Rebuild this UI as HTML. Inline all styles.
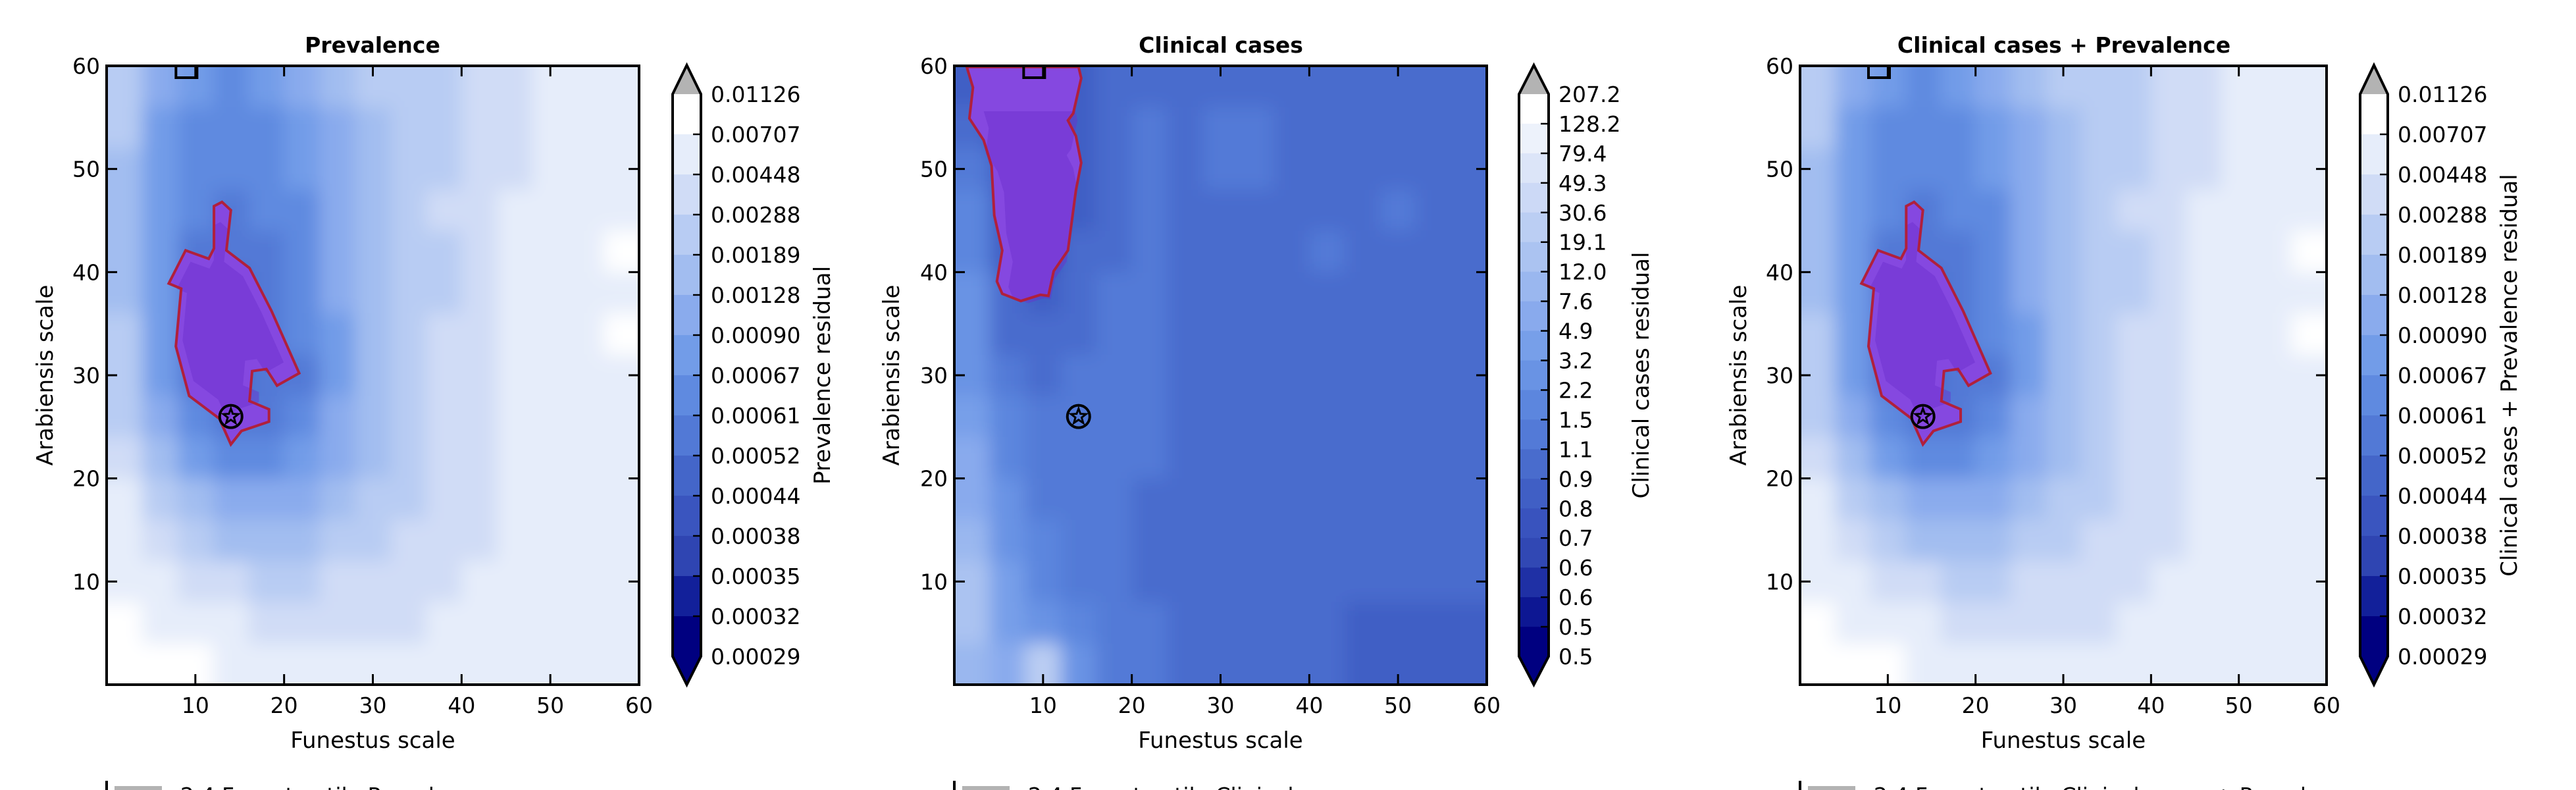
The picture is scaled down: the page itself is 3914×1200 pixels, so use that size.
<!DOCTYPE html>
<html><head><meta charset="utf-8"><style>
html,body{margin:0;padding:0;background:#fff;}
svg{display:block;font-family:"DejaVu Sans","Liberation Sans",sans-serif;}
</style></head><body>
<svg id="fig" width="3914" height="1200" viewBox="0 0 3914 1200" xmlns="http://www.w3.org/2000/svg">
<defs>
<filter id="blur" x="-5%" y="-5%" width="110%" height="110%"><feGaussianBlur stdDeviation="14"/></filter>
</defs>
</svg>
<script>
const xTicks=[10,20,30,40,50,60];
const yTicks=[10,20,30,40,50,60];
const prevLabels=["0.01126","0.00707","0.00448","0.00288","0.00189","0.00128","0.00090","0.00067","0.00061","0.00052","0.00044","0.00038","0.00035","0.00032","0.00029"];
const clinLabels=["207.2","128.2","79.4","49.3","30.6","19.1","12.0","7.6","4.9","3.2","2.2","1.5","1.1","0.9","0.8","0.7","0.6","0.6","0.5","0.5"];
// band index grids: rows from y=60 down to y=0 (4-unit cells), cols x=0..60
const prevGrid=[
[3,5,6,7,6,5,4,3,3,3,2,2,1,1,1],
[3,6,7,7,7,6,5,4,3,3,2,2,1,1,1],
[4,6,7,7,7,6,5,4,3,3,2,2,1,1,1],
[4,6,7,8,7,7,5,4,3,2,2,1,1,1,1],
[4,6,8,8,8,7,5,4,3,3,2,1,1,1,0],
[4,6,8,9,8,7,5,4,3,3,2,1,1,1,1],
[3,6,8,9,8,7,6,4,3,2,2,1,1,1,0],
[3,6,8,9,8,8,6,4,3,2,2,1,1,1,1],
[3,5,7,8,8,7,5,4,3,2,2,1,1,1,1],
[2,4,6,7,7,6,5,4,3,2,2,1,1,1,1],
[1,3,4,5,5,5,4,3,3,2,2,1,1,1,1],
[1,2,3,4,4,4,3,3,2,2,2,1,1,1,1],
[1,1,2,2,3,3,2,2,2,2,1,1,1,1,1],
[0,1,1,1,2,2,2,2,2,1,1,1,1,1,1],
[0,0,0,1,1,1,1,1,1,1,1,1,1,1,1]];
const clinGrid=[
[13,15,15,13,12,12,12,12,12,12,12,12,12,12,12],
[12,14,14,13,12,11,12,11,11,12,12,12,12,12,12],
[11,13,14,13,12,11,12,11,11,12,12,12,12,12,12],
[10,13,14,13,12,11,12,12,12,12,12,12,11,12,12],
[10,13,14,12,12,11,12,12,12,12,11,12,12,12,12],
[9,12,13,12,11,11,12,12,12,12,12,12,12,12,12],
[9,12,12,12,11,11,12,12,12,12,12,12,12,12,12],
[9,11,12,11,11,11,12,12,12,12,12,12,12,12,12],
[8,10,11,11,11,11,12,12,12,12,12,12,12,12,12],
[7,10,11,11,11,11,12,12,12,12,12,12,12,12,12],
[7,9,11,11,11,12,12,12,12,12,12,12,12,12,12],
[6,9,10,11,11,12,12,12,12,12,12,12,12,12,12],
[5,8,10,11,11,12,12,12,12,12,12,12,12,12,12],
[5,8,9,10,11,11,12,12,12,12,12,13,13,13,13],
[6,7,4,9,11,11,12,12,12,12,12,13,13,13,13]];
const prevOutline=[[12.1,46.4],[13.0,46.8],[14.0,46.0],[13.5,42.1],[16.1,40.4],[18.6,36.2],[21.7,30.2],[19.2,29.0],[18.0,30.6],[16.4,30.4],[16.1,27.5],[18.3,26.7],[18.3,25.5],[15.2,24.6],[14.0,23.3],[12.7,25.8],[9.3,28.0],[7.8,32.8],[8.4,38.4],[7.0,38.9],[8.9,42.1],[11.5,41.3],[12.1,42.3]];
const clinOutline=[[1.4,59.9],[14.0,59.9],[14.3,58.8],[13.4,55.4],[12.8,54.7],[13.7,53.2],[14.3,50.6],[13.7,47.9],[12.8,42.1],[11.2,40.1],[10.6,37.7],[9.7,37.8],[7.5,37.2],[5.4,37.9],[4.8,39.1],[5.4,42.1],[4.5,45.5],[4.2,50.3],[3.3,52.8],[1.7,54.9],[2.1,57.9]];
const starPoint=[14,26];
const squarePoint=[9,60];

const palette=["#ffffff","#e6edfa","#d0dcf6","#b8ccf3","#a2bdf0","#8aabed","#729ce8","#5f8ae0","#5279d6","#4466c9","#3a55bf","#2f45b2","#12209a","#000080"];
const NS="http://www.w3.org/2000/svg";
const svg=document.getElementById('fig');
function el(tag,attrs,parent){const e=document.createElementNS(NS,tag);for(const k in attrs)e.setAttribute(k,attrs[k]);(parent||svg).appendChild(e);return e;}
function hex2rgb(h){return [parseInt(h.substr(1,2),16),parseInt(h.substr(3,2),16),parseInt(h.substr(5,2),16)];}
function interpColor(t){const p=t*(palette.length-1);const i=Math.min(Math.floor(p),palette.length-2);const f=p-i;const a=hex2rgb(palette[i]),b=hex2rgb(palette[i+1]);return 'rgb('+a.map((v,k)=>Math.round(v+(b[k]-v)*f)).join(',')+')';}

const T=100,B=1040;
const panels=[
 {key:'prev',L:162,R:971,cbL:1022,cbR:1065,title:"Prevalence",tx:566,ylx:68,cbt:1249,cbLabel:"Prevalence residual",labels:prevLabels,grid:prevGrid,bands:14,outline:prevOutline},
 {key:'clin',L:1450,R:2259,cbL:2308,cbR:2353,title:"Clinical cases",tx:1855,ylx:1354,cbt:2493,cbLabel:"Clinical cases residual",labels:clinLabels,grid:clinGrid,bands:19,outline:clinOutline},
 {key:'comb',L:2735,R:3535,cbL:3586,cbR:3628,title:"Clinical cases + Prevalence",tx:3136,ylx:2641,cbt:3812,cbLabel:"Clinical cases + Prevalence residual",labels:prevLabels,grid:prevGrid,bands:14,outline:prevOutline}
];

panels.forEach((p,pi)=>{
  const xs=v=>p.L+(v/60)*(p.R-p.L);
  const ys=v=>B-(v/60)*(B-T);
  const colorOf=b=>p.bands===14?palette[b]:interpColor(b/(p.bands-1));
  const g=el('g',{});
  
  
  const cp=el('clipPath',{id:'clip'+pi},svg.querySelector('defs'));
  el('rect',{x:p.L,y:T,width:p.R-p.L,height:B-T},cp);
  const clipG=el('g',{'clip-path':'url(#clip'+pi+')'},g);
  const heat=el('g',{filter:'url(#blur)'},clipG);
  
  
  const rows=p.grid.length;
  p.grid.forEach((row,ri)=>{
    const cols=row.length;
    row.forEach((b,ci)=>{
      let x0=xs(ci*60/cols),x1=xs((ci+1)*60/cols),y0=ys(60-ri*60/rows),y1=ys(60-(ri+1)*60/rows);
      if(ci===0)x0-=60; if(ci===cols-1)x1+=60; if(ri===0)y0-=60; if(ri===rows-1)y1+=60;
      const c=el('rect',{x:x0,y:y0,width:x1-x0+0.5,height:y1-y0+0.5,fill:colorOf(b)},heat);
      
      
    });
  });
  const d='M'+p.outline.map(q=>xs(q[0]).toFixed(1)+','+ys(q[1]).toFixed(1)).join(' L')+' Z';
  const pr=el('path',{d:d,fill:'#8548e0',stroke:'none'},clipG);
  
  
  const inner=el('path',{d:d,fill:'#6a2fcc',opacity:0.45},clipG);
  
  
  inner.setAttribute('transform','translate('+(xs(12)*0.18)+','+(ys(36)*0.18)+') scale(0.82)');
  const ol=el('path',{d:d,fill:'none',stroke:'#b0203c','stroke-width':4},clipG);
  
  
  const sx=xs(starPoint[0]),sy=ys(starPoint[1]);
  const mc=el('circle',{cx:sx,cy:sy,r:17,fill:'none',stroke:'#000','stroke-width':4},g);
  
  
  let star='';for(let k=0;k<10;k++){const a=-Math.PI/2+k*Math.PI/5;const r=k%2?5:12;star+=(k?'L':'M')+(sx+r*Math.cos(a)).toFixed(1)+','+(sy+r*Math.sin(a)).toFixed(1);}
  const st=el('path',{d:star+'Z',fill:'none',stroke:'#000','stroke-width':3},g);
  
  
  const sq=el('rect',{x:xs(squarePoint[0])-16,y:ys(squarePoint[1]),width:32,height:18,fill:'none',stroke:'#000','stroke-width':4},g);
  
  
  const fr=el('rect',{x:p.L,y:T,width:p.R-p.L,height:B-T,fill:'none',stroke:'#000','stroke-width':4},g);
  
  
  xTicks.forEach(v=>{
    const x=xs(v);
    el('line',{x1:x,y1:B,x2:x,y2:B-16,stroke:'#000','stroke-width':3},g);
    el('line',{x1:x,y1:T,x2:x,y2:T+16,stroke:'#000','stroke-width':3},g);
    const t=el('text',{x:x,y:B+43,'font-size':33,'text-anchor':'middle'},g);t.textContent=v;
    
    
  });
  yTicks.forEach(v=>{
    const y=ys(v);
    el('line',{x1:p.L,y1:y,x2:p.L+16,y2:y,stroke:'#000','stroke-width':3},g);
    el('line',{x1:p.R,y1:y,x2:p.R-16,y2:y,stroke:'#000','stroke-width':3},g);
    const t=el('text',{x:p.L-10,y:y+12,'font-size':33,'text-anchor':'end'},g);t.textContent=v;
    
    
  });
  const tt=el('text',{x:p.tx,y:80,'font-size':33,'font-weight':'bold','text-anchor':'middle'},g);tt.textContent=p.title;
  
  
  const xl=el('text',{x:(p.L+p.R)/2,y:1136,'font-size':34,'text-anchor':'middle'},g);xl.textContent="Funestus scale";
  
  
  const yl=el('text',{x:0,y:0,'font-size':34,'text-anchor':'middle',transform:'translate('+(p.ylx+12)+',570) rotate(-90)'},g);yl.textContent="Arabiensis scale";
  
  
  const cbT=143,cbB=997,n=p.bands,bh=(cbB-cbT)/n;
  const cb=el('g',{},g);
  
  
  for(let b=0;b<n;b++){el('rect',{x:p.cbL,y:cbT+b*bh,width:p.cbR-p.cbL,height:bh+0.6,fill:colorOf(b)},cb);}
  const mid=(p.cbL+p.cbR)/2;
  el('path',{d:'M'+p.cbL+','+cbT+' L'+mid+',99 L'+p.cbR+','+cbT+' Z',fill:'#b3b3b3'},cb);
  el('path',{d:'M'+p.cbL+','+cbB+' L'+mid+',1040 L'+p.cbR+','+cbB+' Z',fill:'#000080'},cb);
  el('path',{d:'M'+p.cbL+','+cbT+' L'+mid+',99 L'+p.cbR+','+cbT+' L'+p.cbR+','+cbB+' L'+mid+',1040 L'+p.cbL+','+cbB+' Z',fill:'none',stroke:'#000','stroke-width':4},cb);
  const labs=p.labels;
  const nl=labs.length, step=(cbB-cbT)/(nl-1);
  labs.forEach((s,i)=>{
    const y=cbT+i*step;
    if(i>0&&i<nl-1) el('line',{x1:p.cbR-12,y1:y,x2:p.cbR,y2:y,stroke:'#000','stroke-width':2.5},cb);
    const t=el('text',{x:p.cbR+15,y:y+12,'font-size':33},cb);t.textContent=s;
    
    
  });
  const ct=el('text',{x:0,y:0,'font-size':34,'text-anchor':'middle',transform:'translate('+(p.cbt+12)+',570) rotate(-90)'},cb);ct.textContent=p.cbLabel;
  
  
  const lg=el('g',{},g);
  
  
  el('line',{x1:p.L,y1:1186,x2:p.L,y2:1200,stroke:'#000','stroke-width':4},lg);
  el('rect',{x:p.L+12,y:1194,width:72,height:10,fill:'#b3b3b3'},lg);
  const lt=el('text',{x:p.L+112,y:1220,'font-size':33},lg);
  lt.textContent=pi===0?"2.4 Funestus-tile Prevalence":(pi===1?"2.4 Funestus-tile Clinical cases":"2.4 Funestus-tile Clinical cases + Prevalence");
});
</script>
</body></html>
